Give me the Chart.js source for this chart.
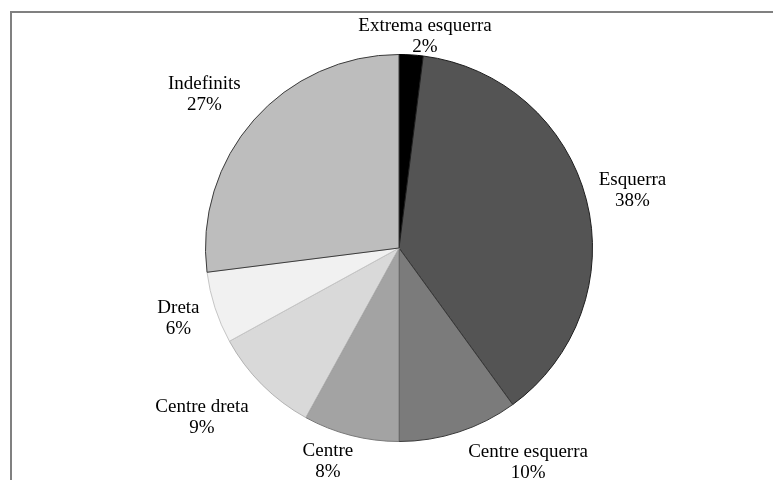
<!DOCTYPE html>
<html>
<head>
<meta charset="utf-8">
<script src="https://cdn.jsdelivr.net/npm/chart.js@4.4.1/dist/chart.umd.min.js"></script>
<style>
  html, body { margin: 0; padding: 0; background: #ffffff; }
  #wrap { position: relative; width: 773px; height: 480px; }
  canvas { display: block; }
</style>
</head>
<body>
<div id="wrap"><canvas id="c" width="773" height="480"></canvas></div>
<script>
// ---- data ----
const categories = ["Extrema esquerra", "Esquerra", "Centre esquerra", "Centre", "Centre dreta", "Dreta", "Indefinits"];
const shares = [2, 38, 10, 8, 9, 6, 27];

// ---- styles / layout (not data) ----
const fillColors = ["#000000", "#545454", "#7b7b7b", "#a3a3a3", "#d9d9d9", "#f1f1f1", "#bdbdbd"];
const edgeColors = ["#000000", "#1e1e1e", "#3a3a3a", "#7a7a7a", "#b2b2b2", "#c6c6c6", "#3c3c3c"];
const labelNudge = [[12, 12], [17, -2], [60, 1.5], [-15.5, -2.5], [-39, 11], [-8, 1], [-27, -5.6]];
const labelGap = 30;
const lineGap = 21;

const framePlugin = {
  id: 'frame',
  beforeDraw(chart) {
    const ctx = chart.ctx;
    ctx.save();
    ctx.fillStyle = '#ffffff';
    ctx.fillRect(0, 0, chart.width, chart.height);
    ctx.strokeStyle = '#808080';
    ctx.lineWidth = 2;
    ctx.beginPath();
    ctx.moveTo(11, chart.height);
    ctx.lineTo(11, 12);
    ctx.lineTo(chart.width, 12);
    ctx.stroke();
    ctx.restore();
  }
};

const labelPlugin = {
  id: 'outLabels',
  afterDatasetsDraw(chart) {
    const ctx = chart.ctx;
    const meta = chart.getDatasetMeta(0);
    ctx.save();
    ctx.font = '19px "Liberation Serif", "Times New Roman", serif';
    ctx.fillStyle = '#000000';
    ctx.textAlign = 'center';
    ctx.textBaseline = 'middle';
    meta.data.forEach((arc, i) => {
      const p = arc.getProps(['x', 'y', 'startAngle', 'endAngle', 'outerRadius'], true);
      const mid = (p.startAngle + p.endAngle) / 2;
      const d = p.outerRadius + labelGap;
      const cx = p.x + Math.cos(mid) * d + labelNudge[i][0];
      const cy = p.y + Math.sin(mid) * d + labelNudge[i][1];
      const val = chart.data.datasets[0].data[i];
      ctx.fillText(chart.data.labels[i], cx, cy - lineGap / 2);
      ctx.fillText(val + '%', cx, cy + lineGap / 2);
    });
    ctx.restore();
  }
};

new Chart(document.getElementById('c'), {
  type: 'pie',
  data: {
    labels: categories,
    datasets: [{
      data: shares,
      backgroundColor: fillColors,
      borderColor: edgeColors,
      borderWidth: 1,
      borderAlign: 'center'
    }]
  },
  options: {
    responsive: false,
    animation: false,
    layout: { padding: { left: 205, right: 180, top: 54, bottom: 38 } },
    plugins: {
      legend: { display: false },
      tooltip: { enabled: false },
      title: { display: false }
    }
  },
  plugins: [framePlugin, labelPlugin]
});
</script>
</body>
</html>
